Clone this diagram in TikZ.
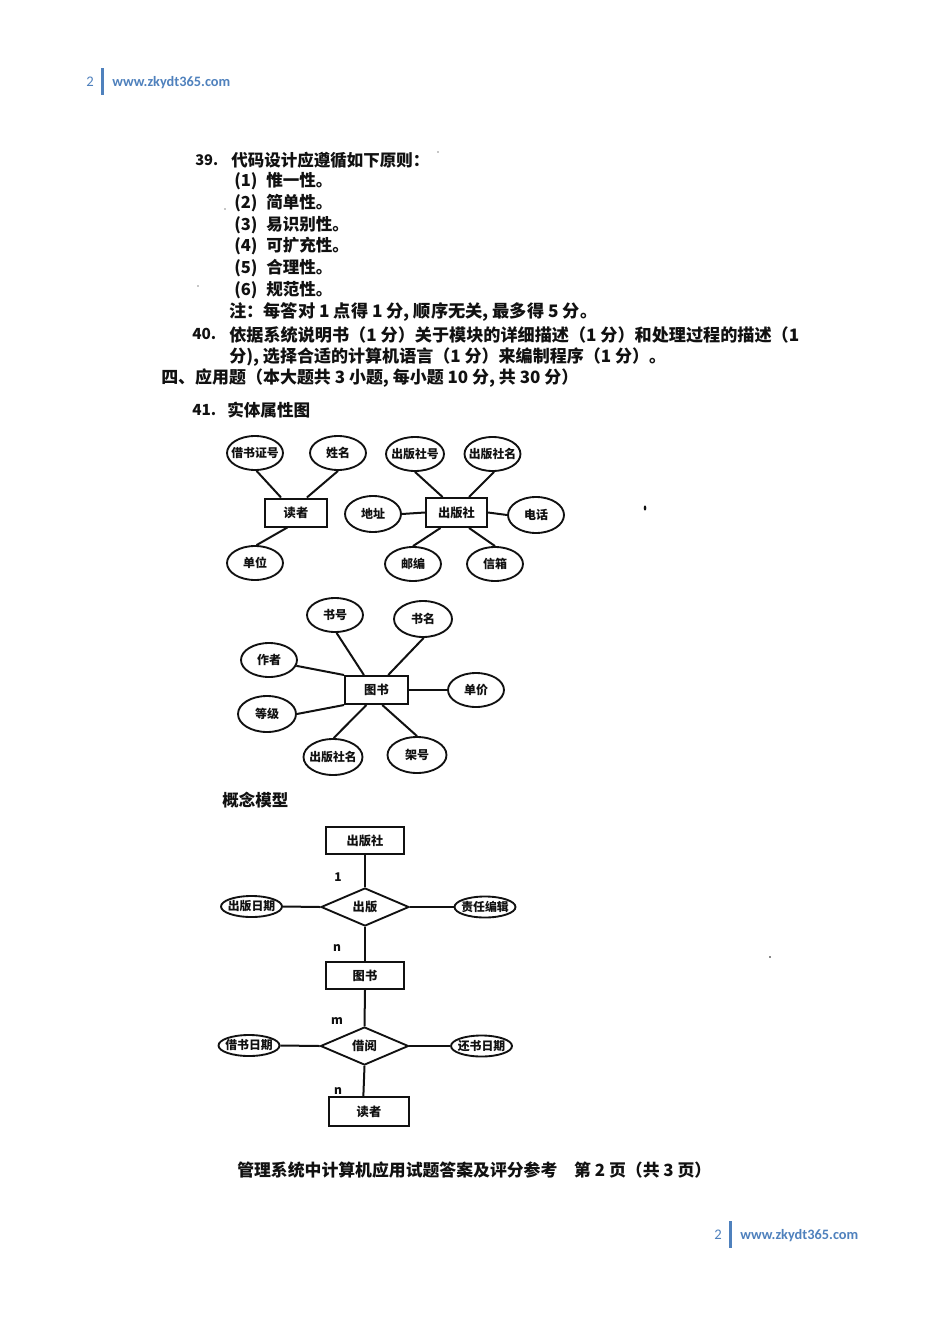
\documentclass[tikz,border=0pt]{standalone}
\usepackage{graphicx}
\usepackage{fontspec}
\usetikzlibrary{shapes.geometric}
\setmainfont{Noto Sans CJK SC}
\newfontfamily\footfont{Carlito}
\newdimen\pxu \pxu=0.75pt
\newcommand{\fitw}[2]{\resizebox{#1\pxu}{!}{#2}}
\newcommand{\wlab}[1]{\makebox[0pt][c]{\fontsize{8.9}{9}\selectfont #1}}
\newcommand{\itemno}[1]{\makebox[34\pxu][l]{\hspace{2\pxu}#1}}
\definecolor{footblue}{HTML}{4F81BD}
\definecolor{inkc}{HTML}{111111}
\tikzset{
  ent/.style={draw=inkc,line width=1.5pt,rectangle,inner sep=0pt,font=\bfseries\fontsize{9.2}{9}\selectfont,text=inkc},
  attr/.style={draw=inkc,line width=1.4pt,ellipse,inner sep=0pt,minimum width=56\pxu,minimum height=34\pxu,font=\bfseries\fontsize{9}{9}\selectfont,text=inkc},
  attrw/.style={draw=inkc,line width=1.4pt,ellipse,inner sep=0pt,minimum width=61\pxu,minimum height=21\pxu,font=\bfseries\fontsize{9}{9}\selectfont,text=inkc},
  rel/.style={draw=inkc,line width=1.4pt,diamond,aspect=2.3,inner sep=0pt,minimum width=88\pxu,minimum height=38\pxu,font=\bfseries\fontsize{9.2}{9}\selectfont,text=inkc},
  link/.style={draw=inkc,line width=1.5pt},
  body/.style={anchor=west,inner sep=0pt,font=\bfseries\fontsize{12.4}{13}\selectfont,text=inkc},
  card/.style={inner sep=0pt,font=\bfseries\fontsize{9}{9}\selectfont,text=inkc},
  foot/.style={anchor=west,inner sep=0pt,text=footblue,font=\footfont\bfseries\fontsize{10}{10}\selectfont},
  footnum/.style={anchor=west,inner sep=0pt,text=footblue,font=\footfont\fontsize{11}{11}\selectfont},
  footbar/.style={fill=footblue,draw=none},
  speck/.style={fill=inkc,draw=none}
}
\begin{document}
\begin{tikzpicture}[x=0.75pt,y=-0.75pt]
\useasboundingbox (0,0) rectangle (950,1344);
\fill[white] (0,0) rectangle (950,1344);

% header
\node[footnum] (hnum) at (86,82) {2};
\fill[footbar] (101,68) rectangle (104,95);
\node[foot] (hurl) at (112,83) {\fitw{118}{www.zkydt365.com}};

% text
\node[body] (t39n) at (195,160) {\fitw{23}{39.}};
\node[body] (t39) at (231,160) {\fitw{198}{代码设计应遵循如下原则：}};
\node[body] (t1) at (232,181) {\itemno{(1)}惟一性。};
\node[body] (t2) at (232,203) {\itemno{(2)}简单性。};
\node[body] (t3) at (232,225) {\itemno{(3)}易识别性。};
\node[body] (t4) at (232,246) {\itemno{(4)}可扩充性。};
\node[body] (t5) at (232,268) {\itemno{(5)}合理性。};
\node[body] (t6) at (232,290) {\itemno{(6)}规范性。};
\node[body] (tn) at (229,312) {\fitw{368}{注：每答对 1 点得 1 分, 顺序无关, 最多得 5 分。}};
\node[body] (t40n) at (192,334) {\fitw{24}{40.}};
\node[body] (t40a) at (229,335) {\fitw{570}{依据系统说明书（1 分）关于模块的详细描述（1 分）和处理过程的描述（1}};
\node[body] (t40b) at (229,357) {\fitw{437}{分), 选择合适的计算机语言（1 分）来编制程序（1 分）。}};
\node[body] (t4h) at (161,378) {\fitw{417}{四、应用题（本大题共 3 小题, 每小题 10 分, 共 30 分）}};
\node[body] (t41n) at (192,410) {\fitw{24}{41.}};
\node[body] (t41) at (227,410) {\fitw{83}{实体属性图}};

% ER: reader
\node[ent,minimum width=62\pxu,minimum height=28\pxu] (dz) at (296,512.5) {读者};
\node[attr] (jszh) at (255,453) {\wlab{借书证号}};
\node[attr] (xm) at (338,453) {姓名};
\node[attr] (dw) at (255,563) {单位};
\draw[link] (jszh.-85) -- (dz.135);
\draw[link] (xm.-90) -- (dz.54);
\draw[link] (dw.85) -- (dz.-120);

% ER: publisher
\node[ent,minimum width=61\pxu,minimum height=29\pxu] (cbs) at (456.5,512.5) {出版社};
\node[attr,minimum width=58\pxu] (cbsh) at (415,454) {\wlab{出版社号}};
\node[attr] (cbsm) at (492.5,454) {\wlab{出版社名}};
\node[attr,minimum height=36\pxu] (dzhi) at (373,514) {地址};
\node[attr,minimum height=36\pxu] (dh) at (536,515) {电话};
\node[attr] (yb) at (413,564) {邮编};
\node[attr] (xx) at (495,564) {信箱};
\draw[link] (cbsh.-90) -- (cbs.132);
\draw[link] (cbsm.-85) -- (cbs.51);
\draw[link] (dzhi.east) -- (cbs.west);
\draw[link] (cbs.east) -- (dh.west);
\draw[link] (yb.90) -- (cbs.-136);
\draw[link] (xx.90) -- (cbs.-51);

% ER: book
\node[ent,minimum width=63\pxu,minimum height=28\pxu] (ts) at (376.5,690) {图书};
\node[attr] (sh) at (335,615) {书号};
\node[attr,minimum width=58\pxu,minimum height=36\pxu] (sm) at (423,619) {书名};
\node[attr] (zz) at (269,660) {作者};
\node[attr] (dj) at (476,690) {单价};
\node[attr,minimum width=58\pxu,minimum height=36\pxu] (dj2) at (267,714) {等级};
\node[attr,minimum width=59\pxu,minimum height=36\pxu] (tcbs) at (333,757) {\wlab{出版社名}};
\node[attr,minimum width=59\pxu,minimum height=36\pxu] (jh) at (417,755) {架号};
\draw[link] (sh.-85) -- (ts.130);
\draw[link] (sm.-88) -- (ts.52);
\draw[link] (zz.-12) -- (ts.north west);
\draw[link] (dj.west) -- (ts.east);
\draw[link] (dj2.east) -- (ts.south west);
\draw[link] (tcbs.88) -- (ts.-124);
\draw[link] (jh.90) -- (ts.-69);

% conceptual model
\node[body] (gn) at (222,800) {\fitw{66}{概念模型}};
\node[ent,minimum width=78\pxu,minimum height=27\pxu] (c1) at (365,840.5) {出版社};
\node[rel] (r1) at (365,907) {出版};
\node[attrw] (a1) at (251.5,906.5) {\wlab{出版日期}};
\node[attrw] (a2) at (485,907) {\wlab{责任编辑}};
\node[ent,minimum width=78\pxu,minimum height=27\pxu] (c2) at (365,975.5) {图书};
\node[rel] (r2) at (364.5,1046) {借阅};
\node[attrw] (a3) at (249,1045.5) {\wlab{借书日期}};
\node[attrw] (a4) at (481.5,1046) {\wlab{还书日期}};
\node[ent,minimum width=80\pxu,minimum height=29\pxu] (c3) at (369,1111.5) {读者};
\draw[link] (c1.south) -- (r1.north);
\draw[link] (r1.south) -- (c2.north);
\draw[link] (a1.east) -- (r1.west);
\draw[link] (r1.east) -- (a2.west);
\draw[link] (c2.south) -- (r2.north);
\draw[link] (a3.east) -- (r2.west);
\draw[link] (r2.east) -- (a4.west);
\draw[link] (r2.south) -- (c3.110);
\node[card] (l1) at (338,877) {1};
\node[card] (ln1) at (337,948) {n};
\node[card] (lm) at (337,1021) {m};
\node[card] (ln2) at (338,1091) {n};

% caption
\node[body] (cap) at (237,1170) {\fitw{474}{管理系统中计算机应用试题答案及评分参考\quad 第 2 页（共 3 页）}};

% footer
\node[footnum] (fnum) at (714,1235) {2};
\fill[footbar] (729,1221) rectangle (732,1248);
\node[foot] (furl) at (740,1236) {\fitw{118}{www.zkydt365.com}};

% scan specks
\fill[speck] (645,508) ellipse (1.3 and 2.6);
\fill[speck] (438,152) circle (0.7);
\fill[speck] (225,209) circle (0.7);
\fill[speck] (198,286) circle (0.7);
\fill[speck] (770,957) circle (0.8);
\end{tikzpicture}
\end{document}
